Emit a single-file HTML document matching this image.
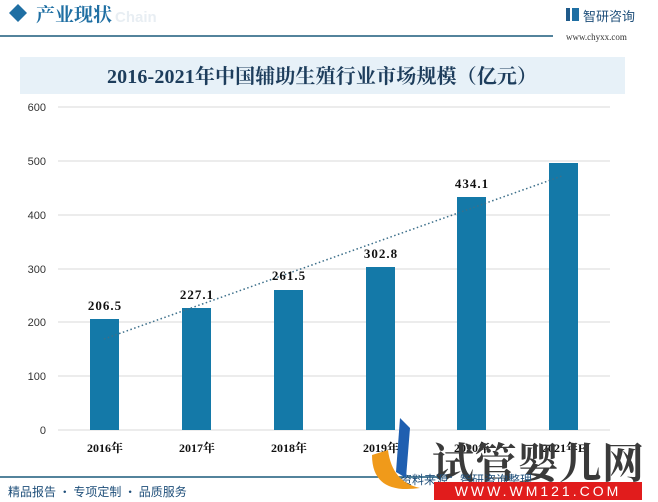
<!DOCTYPE html>
<html><head><meta charset="utf-8"><style>
body{margin:0;width:658px;height:502px;background:#fff;overflow:hidden;font-family:"Liberation Sans","Noto Sans CJK SC",sans-serif;}
</style></head><body>
<svg width="658" height="502" xmlns="http://www.w3.org/2000/svg" style="position:absolute;left:0;top:0">
<polygon points="18,4 27,13 18,22 9,13" fill="#1f6fa3"/>
<text x="36" y="21" font-family="'Noto Serif CJK SC',serif" font-size="19" fill="#1f6fa3" font-weight="bold">产业现状</text>
<text x="115" y="22" font-size="15" fill="#e8eef3" font-weight="bold">Chain</text>
<line x1="0" y1="36" x2="553" y2="36" stroke="#1a5a7c" stroke-width="1.5"/>
<rect x="566" y="8" width="4" height="13" fill="#1f5a8a"/><rect x="572" y="8" width="7" height="13" fill="#1f6fa3"/>
<text x="583" y="21" font-size="13" fill="#1f4f7a" font-family="'Noto Sans CJK SC',sans-serif">智研咨询</text>
<text x="566" y="40" font-size="9" fill="#333" font-family="'Liberation Serif',serif">www.chyxx.com</text>
<rect x="20" y="57" width="605" height="37" fill="#e7f1f8"/>
<text x="322" y="83" text-anchor="middle" font-size="20" fill="#1d3d5c" font-weight="bold" font-family="'Liberation Serif','Noto Serif CJK SC',serif" textLength="430">2016-2021年中国辅助生殖行业市场规模（亿元）</text>
<g stroke="#d9d9d9" stroke-width="1">
<line x1="58" y1="107" x2="610" y2="107"/><line x1="58" y1="161" x2="610" y2="161"/><line x1="58" y1="215" x2="610" y2="215"/><line x1="58" y1="269" x2="610" y2="269"/><line x1="58" y1="322" x2="610" y2="322"/><line x1="58" y1="376" x2="610" y2="376"/><line x1="58" y1="430" x2="610" y2="430"/>
</g>
<g font-size="11" fill="#333" text-anchor="end">
<text x="46" y="111">600</text><text x="46" y="165">500</text><text x="46" y="219">400</text><text x="46" y="273">300</text><text x="46" y="326">200</text><text x="46" y="380">100</text><text x="46" y="434">0</text>
</g>
<g fill="#1479a8">
<rect x="90" y="319" width="29" height="111"/><rect x="182" y="308" width="29" height="122"/><rect x="274" y="290" width="29" height="140"/><rect x="366" y="267" width="29" height="163"/><rect x="457" y="197" width="29" height="233"/><rect x="549" y="163" width="29" height="267"/>
</g>
<line x1="104" y1="339" x2="562" y2="176" stroke="#3c6f8a" stroke-width="1.5" stroke-dasharray="1.5,2.5"/>
<g font-size="13" font-weight="bold" fill="#111" text-anchor="middle" font-family="'Liberation Serif',serif" letter-spacing="1">
<text x="105" y="310">206.5</text><text x="197" y="299">227.1</text><text x="289" y="280">261.5</text><text x="381" y="258">302.8</text><text x="472" y="188">434.1</text>
</g>
<g font-size="12" font-weight="bold" fill="#111" text-anchor="middle" font-family="'Liberation Serif','Noto Serif CJK SC',serif">
<text x="105" y="452">2016年</text><text x="197" y="452">2017年</text><text x="289" y="452">2018年</text><text x="381" y="452">2019年</text><text x="472" y="452">2020年</text><text x="564" y="452">2021年E</text>
</g>
<line x1="0" y1="477" x2="440" y2="477" stroke="#1a5a7c" stroke-width="1.5"/>
<text x="8" y="496" font-size="12" fill="#1f4f7a" font-family="'Noto Sans CJK SC',sans-serif">精品报告 · 专项定制 · 品质服务</text>
<text x="432" y="478" font-size="42" font-weight="bold" fill="#3a3a3a" font-family="'Noto Serif CJK SC',serif" textLength="212">试管婴儿网</text>
<text x="400" y="484" font-size="12" fill="#1f4f7a" font-family="'Noto Sans CJK SC',sans-serif">资料来源：智研咨询整理</text>
<rect x="434" y="482" width="208" height="18" fill="#e11c1c"/>
<text x="538" y="496" text-anchor="middle" font-size="14" fill="#fff" letter-spacing="3">WWW.WM121.COM</text>
<path d="M372,455 Q372,495 420,488 Q392,482 388,450 Z" fill="#f09a1a"/>
<path d="M400,418 L410,428 L406,478 L396,472 Z" fill="#1f5fb0"/>
</svg>
</body></html>
